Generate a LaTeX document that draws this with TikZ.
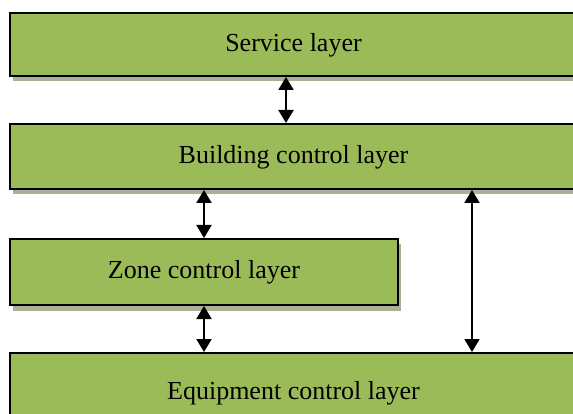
\documentclass[tikz,border=0pt]{standalone}
\usepackage{fontspec}
\setmainfont{Liberation Serif}
\usetikzlibrary{arrows.meta,shadows}
\definecolor{layergreen}{HTML}{9BBB59}
\definecolor{layershadow}{HTML}{A8B096}
\tikzset{
  layer/.style = {
    draw=black, line width=2pt, fill=layergreen, anchor=north west,
    minimum width=567pt, text depth=0.45em,
    font=\fontsize{26}{30}\selectfont,
    drop shadow={shadow xshift=3pt, shadow yshift=-5.5pt, fill=layershadow, opacity=1}
  }
}
\tikzset{>={Triangle[width=15pt,length=13pt]}}

\begin{document}
\begin{tikzpicture}[x=1pt,y=-1pt]
  \useasboundingbox (0,0) rectangle (573,414);
  \clip (0,0) rectangle (573,414);
  % layers
  \node[layer,minimum height=63pt] (service) at (9,12) {Service layer};
  \node[layer,minimum height=65pt] (building) at (9,123) {Building control layer};
  \node[layer,minimum height=66pt,minimum width=388pt] (zone) at (9,238) {Zone control layer};
  \node[layer,minimum height=80pt] (equip) at (9,352) {Equipment control layer};
  % arrows
  \coordinate (tap) at (472,0);
  \draw[<->,line width=2pt] ([xshift=-7.5pt]service.south) -- ([xshift=-7.5pt]building.north);
  \draw[<->,line width=2pt] (building.south -| zone.north) -- (zone.north);
  \draw[<->,line width=2pt] (zone.south) -- (equip.north -| zone.south);
  \draw[<->,line width=2pt] (building.south -| tap) -- (equip.north -| tap);
\end{tikzpicture}
\end{document}
